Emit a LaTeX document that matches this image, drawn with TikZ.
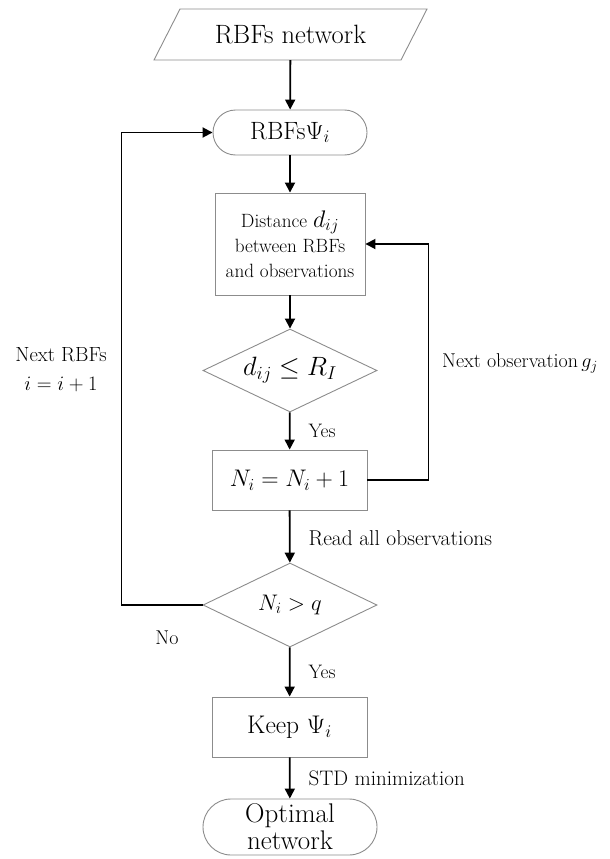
\RequirePackage{fix-cm}
\documentclass[tikz,border=0pt]{standalone}
\usepackage{fontspec}
\setmainfont{Latin Modern Roman}
\usetikzlibrary{arrows.meta,shapes.geometric}
\newcommand{\fsz}[1]{\fontsize{#1}{1.12\dimexpr #1pt\relax}\selectfont}
\begin{document}
\begin{tikzpicture}[x=1pt,y=-1pt,
  shp/.style={draw=black!45,line width=0.9pt,fill=white},
  big/.style={font=\fsz{25.5}},
  boxn/.style={shp,rectangle,inner sep=2pt,big},
  term/.style={shp,rectangle,rounded corners=#1,inner sep=2pt,big},
  dec/.style={shp,diamond,aspect=2.1,inner sep=0pt,big},
  conn/.style={line width=1.8pt,-{Triangle[length=10pt,width=10pt]}},
  lbl/.style={font=\fsz{21},inner sep=0pt}]
\useasboundingbox (0,0) rectangle (610,859);

% start (parallelogram)
\draw[shp] (180,9) -- (427,9) -- (401,60) -- (154,60) -- cycle;
\node[minimum width=220pt,minimum height=51pt,font=\fsz{26.5}] (net) at (290.5,34.5) {RBFs network};

\node[term=22.5pt,minimum width=154pt,minimum height=45pt,font=\fsz{25}] (rbf) at (290,132.5) {RBFs$\Psi_i$};
\node[boxn,minimum width=150pt,minimum height=102pt,align=center,font=\fontsize{19.2}{25}\selectfont] (dist) at (290,244)
  {Distance {\fsz{24}$d_{ij}$}\\between RBFs\\and observations};
\node[dec,minimum width=174pt,minimum height=83pt,font=\fsz{26.5}] (d1) at (290,370.5) {$d_{ij}\le R_I$};
\node[boxn,minimum width=155pt,minimum height=60pt,font=\fsz{24}] (ni) at (289.5,480) {$N_i = N_i + 1$};
\node[dec,minimum width=174pt,minimum height=84pt,font=\fsz{22.5}] (d2) at (290,605) {$N_i > q$};
\node[boxn,minimum width=155pt,minimum height=60pt] (keep) at (289.5,727) {Keep $\Psi_i$};
\node[term=28pt,minimum width=174pt,minimum height=56pt,align=center,font=\fontsize{27}{27}\selectfont] (opt) at (290,827) {Optimal\\network};

% main flow
\draw[conn] (net) -- (rbf);
\draw[conn] (rbf) -- (dist);
\draw[conn] (dist) -- (d1);
\draw[conn] (d1) -- (ni) node[lbl,midway,anchor=west,xshift=18pt,font=\fsz{19.5}] (yes1) {Yes};
\draw[conn] (ni) -- (d2) node[lbl,midway,anchor=west,xshift=18pt,yshift=-2pt,font=\fsz{21.5}] (readl) {Read all observations};
\draw[conn] (d2) -- (keep) node[lbl,midway,anchor=west,xshift=18pt,font=\fsz{19.5}] (yes2) {Yes};
\draw[conn] (keep) -- (opt) node[lbl,midway,anchor=west,xshift=18pt] (stdl) {STD minimization};

% feedback loops
\draw[conn] (ni.east) -- ++(61,0) coordinate (rc) |- (dist.east);
\node[lbl,anchor=west,font=\fsz{20}] (nextobs) at (442,363) {Next observation$\,g_j$};

\draw[conn] (d2.west) -- ++(-81,0) coordinate (lc) |- (rbf.west);
\node[lbl,align=center,font=\fontsize{20.5}{29}\selectfont] (nextrbf) at (61,370) {Next RBFs\\$i=i+1$};
\node[lbl,font=\fsz{20}] (nol) at (167,638) {No};
\end{tikzpicture}
\end{document}
